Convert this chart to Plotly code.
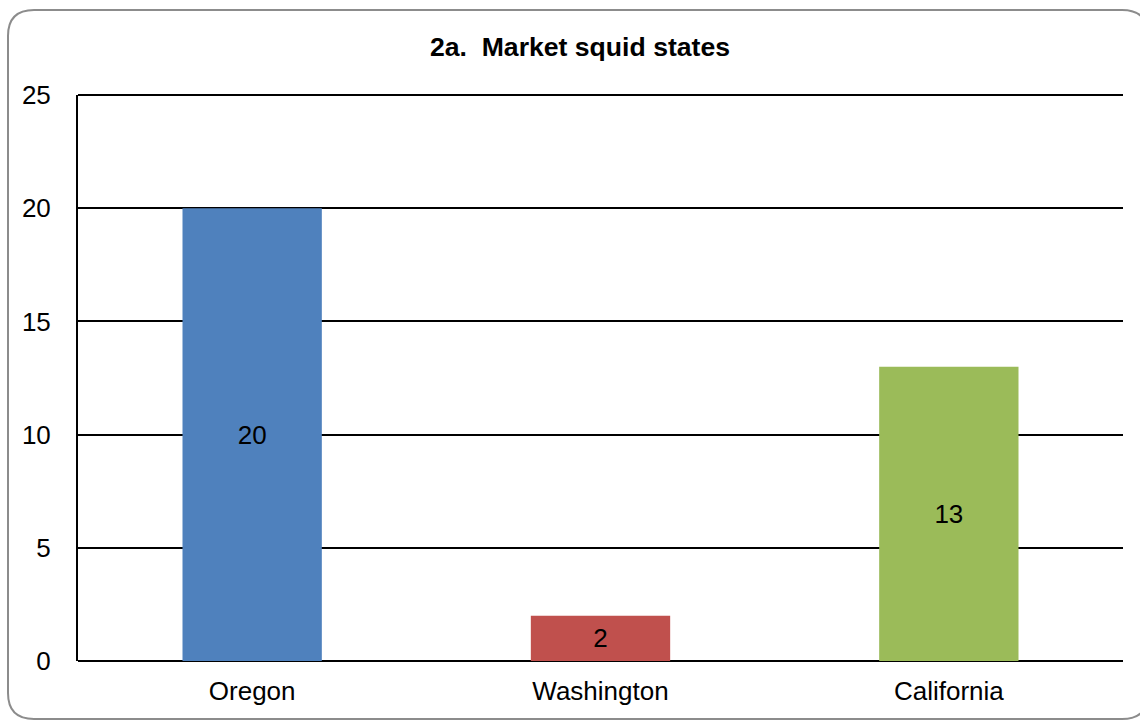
import plotly.graph_objects as go

# Data
states = ['Oregon', 'Washington', 'California']
counts = [20, 2, 13]
bar_colors = ['#4F81BD', '#C0504D', '#9BBB59']

W, H = 1140, 720
L, R, T, B = 78, 17, 95, 59
pw, ph = W - L - R, H - T - B


def px(x):
    return (x - L) / pw


def py(y):
    return (H - B - y) / ph


# rounded outer frame, drawn in pixel units converted to paper units
x0, y0, x1, y1, r = 8, 10, 1148, 719, 26
frame = (f"M {px(x0 + r)},{py(y0)} L {px(x1 - r)},{py(y0)} "
         f"Q {px(x1)},{py(y0)} {px(x1)},{py(y0 + r)} "
         f"L {px(x1)},{py(y1 - r)} Q {px(x1)},{py(y1)} {px(x1 - r)},{py(y1)} "
         f"L {px(x0 + r)},{py(y1)} Q {px(x0)},{py(y1)} {px(x0)},{py(y1 - r)} "
         f"L {px(x0)},{py(y0 + r)} Q {px(x0)},{py(y0)} {px(x0 + r)},{py(y0)} Z")

font_family = 'Liberation Sans, Arial'

fig = go.Figure(go.Bar(
    x=states, y=counts,
    marker=dict(color=bar_colors, line=dict(width=0)),
    text=counts, textposition='inside', insidetextanchor='middle',
    textfont=dict(size=26, color='black', family=font_family),
))

fig.update_layout(
    width=W, height=H,
    margin=dict(l=L, r=R, t=T, b=B),
    paper_bgcolor='white', plot_bgcolor='white',
    bargap=0.6,
    showlegend=False,
    font=dict(family=font_family, size=26, color='black'),
    title=dict(text='<b>2a.  Market squid states</b>', x=580 / W, xanchor='center',
               y=1 - 47 / H, yanchor='middle', font=dict(size=26.6)),
    xaxis=dict(showline=False, showgrid=False, ticks='', ticklabelstandoff=12,
               tickfont=dict(size=26)),
    yaxis=dict(range=[0, 25], dtick=5, showgrid=True, gridcolor='black', gridwidth=2,
               showline=True, linecolor='black', linewidth=2, ticks='',
               zeroline=True, zerolinecolor='black', zerolinewidth=2,
               ticklabelstandoff=20, tickfont=dict(size=26)),
    shapes=[
        dict(type='path', xref='paper', yref='paper', path=frame,
             line=dict(color='#8c8c8c', width=2), layer='below'),
        # top gridline at 25
        dict(type='line', xref='paper', yref='paper', x0=0, x1=1, y0=1, y1=1,
             line=dict(color='black', width=2)),
    ],
)

fig.write_html("out.html", config={'displayModeBar': False},
               post_script="document.body.style.margin = '0';")
